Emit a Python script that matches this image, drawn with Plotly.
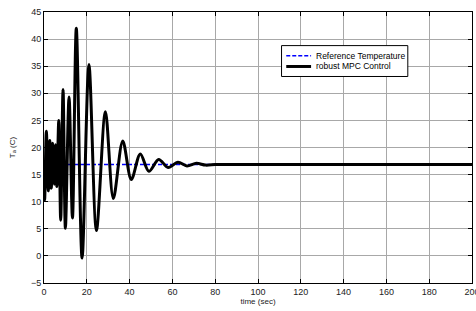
import plotly.graph_objects as go

# Extremum points (time in s, temperature in C)
t_mpc = [0, 0.3, 1.1, 2.0, 2.7, 3.4, 4.1, 4.8, 5.4, 6.0, 6.9, 7.8, 8.9, 10.0, 11.7,
         13.3, 15.1, 17.8, 21.0, 24.5, 28.7, 32.4, 36.8, 40.8, 45.0, 49.0, 53.6,
         58.0, 62.6, 66.8, 71.2, 75.5, 80.0, 84.0, 100.0, 200.0]
v_mpc = [17.0, 10.3, 23.0, 12.0, 21.3, 12.5, 20.8, 13.2, 20.5, 12.8, 25.0, 6.6, 30.7, 5.1, 29.3,
         7.0, 42.0, -0.4, 35.3, 4.7, 26.6, 10.6, 21.2, 14.1, 18.8, 15.6, 17.8,
         16.3, 17.3, 16.6, 17.1, 16.75, 16.85, 16.85, 16.85, 16.85]

t_ref = [0, 200]
v_ref = [16.85, 16.85]

x_ticks = [0, 20, 40, 60, 80, 100, 120, 140, 160, 180, 200]
y_ticks = [-5, 0, 5, 10, 15, 20, 25, 30, 35, 40, 45]

legend_names = ["Reference Temperature", "robust MPC Control"]

FONT = "Liberation Sans, Arial"

fig = go.Figure()
fig.add_trace(go.Scatter(x=t_ref, y=v_ref, mode="lines", name=legend_names[0],
                         line=dict(color="#0000ff", width=1.5, dash="4px,2px")))
fig.add_trace(go.Scatter(x=t_mpc, y=v_mpc, mode="lines", name=legend_names[1],
                         line=dict(color="black", width=3, shape="spline", smoothing=0.9)))

axis_common = dict(showline=True, linecolor="black", linewidth=1, mirror="ticks",
                   ticks="inside", ticklen=4, tickcolor="black", showgrid=True,
                   gridcolor="#a8a8a8", gridwidth=1, zeroline=False, automargin=False,
                   ticklabeloverflow="allow",
                   tickfont=dict(family=FONT, size=9, color="#222"))

fig.update_xaxes(range=[0, 200], tickvals=x_ticks,
                 title=dict(text="time (sec)", font=dict(family=FONT, size=8, color="#222"),
                            standoff=2),
                 **axis_common)
fig.update_yaxes(range=[-5, 45], tickvals=y_ticks,
                 title=dict(text="T<sub>a</sub> (C)", font=dict(family=FONT, size=8, color="#222"),
                            standoff=14),
                 **axis_common)

# Legend drawn as a boxed key (paper coordinates)
fig.add_shape(type="rect", xref="paper", yref="paper", x0=0.555, x1=0.850, y0=0.762, y1=0.876,
              line=dict(color="black", width=1), fillcolor="white", layer="above")
fig.add_shape(type="line", xref="paper", yref="paper", x0=0.566, x1=0.624, y0=0.839, y1=0.839,
              line=dict(color="#0000ff", width=1.5, dash="4px,2px"), layer="above")
fig.add_shape(type="line", xref="paper", yref="paper", x0=0.566, x1=0.624, y0=0.799, y1=0.799,
              line=dict(color="black", width=3), layer="above")
for name, yy in zip(legend_names, [0.839, 0.799]):
    fig.add_annotation(xref="paper", yref="paper", x=0.632, y=yy, text=name, showarrow=False,
                       xanchor="left", yanchor="middle",
                       font=dict(family=FONT, size=8.5, color="black"))

fig.update_layout(
    width=476, height=311,
    margin=dict(l=44, r=4, t=12, b=28, pad=0),
    paper_bgcolor="white", plot_bgcolor="white",
    showlegend=False,
)

fig.write_html("out.html", config={"displayModeBar": False})

# remove default page margin so the figure sits at the window's top-left corner
with open("out.html", "r", encoding="utf-8") as f:
    html = f.read()
html = html.replace("<head>", "<head><style>html,body{margin:0;padding:0;overflow:hidden;}</style>", 1)
with open("out.html", "w", encoding="utf-8") as f:
    f.write(html)
